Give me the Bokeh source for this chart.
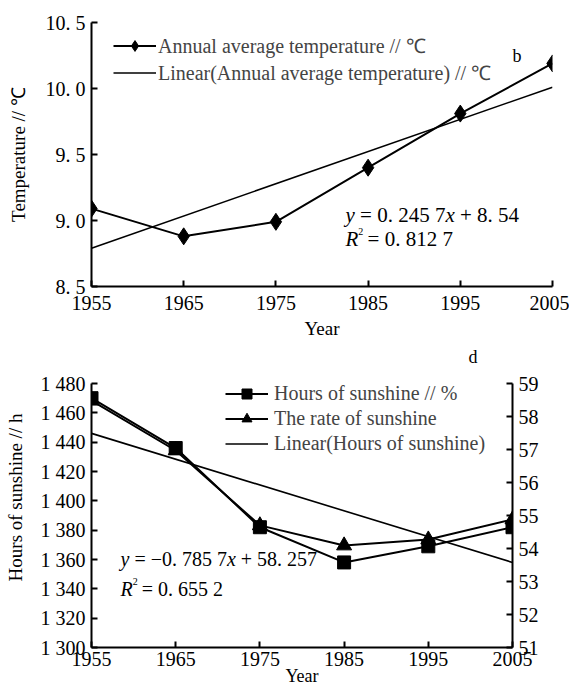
import math
from bokeh.plotting import figure
from bokeh.models import Range1d, LinearAxis, Legend, LegendItem, Label, FixedTicker
from bokeh.embed import file_html
from bokeh.resources import INLINE

FONT = "Liberation Serif"
NB = "\u00a0"

# ---------------- data ----------------
years = [1955, 1965, 1975, 1985, 1995, 2005]
temperature = [9.09, 8.88, 8.99, 9.40, 9.81, 10.19]
trend_years = [1955, 2005]
temp_trend = [8.79, 10.01]
temp_ticks = [8.5, 9.0, 9.5, 10.0, 10.5]
temp_tick_labels = ["8. 5", "9. 0", "9. 5", "10. 0", "10. 5"]

sun_hours = [1470, 1436, 1382, 1358, 1369, 1382]
sun_rate = [58.48, 56.97, 54.70, 54.09, 54.27, 54.88]
hours_trend = [1446, 1358]
hours_ticks = [1300, 1320, 1340, 1360, 1380, 1400, 1420, 1440, 1460, 1480]
hours_tick_labels = ["1 300", "1 320", "1 340", "1 360", "1 380", "1 400",
                     "1 420", "1 440", "1 460", "1 480"]
rate_ticks = [51, 52, 53, 54, 55, 56, 57, 58, 59]
year_ticks = [1955, 1965, 1975, 1985, 1995, 2005]

# Times/Liberation Serif advance widths (em) for placing mixed-style text
W = {" ": .25, NB: .25, "=": .564, "+": .564, "\u2212": .564, ".": .25, "y": .444, "x": .444, "R": .611}
def tw(s, size):
    return sum(W.get(c, .5) for c in s) * size

def style_axis(ax, size="20px"):
    ax.axis_line_width = 2
    ax.axis_line_color = "black"
    ax.major_tick_in = 6
    ax.major_tick_out = 0
    ax.major_tick_line_width = 2
    ax.minor_tick_line_color = None
    ax.major_label_text_font = FONT
    ax.major_label_text_font_size = size
    ax.major_label_text_color = "black"
    ax.axis_label_text_font = FONT
    ax.axis_label_text_font_style = "normal"
    ax.axis_label_text_color = "black"

def add_text(p, x, y, text, size, style="normal"):
    p.add_layout(Label(x=x, y=y, x_units="screen", y_units="screen", text=text,
                       text_font=FONT, text_font_size=f"{size}px", text_font_style=style,
                       text_color="black", text_baseline="middle", text_align="left"))

def equation(p, x, y, parts, size):
    for txt, st in parts:
        txt = txt.replace(" ", NB)
        add_text(p, x, y, txt, size, st)
        x += tw(txt, size)

# ---------------- top chart ----------------
p1 = figure(width=569, height=347, x_range=Range1d(1955, 2005), y_range=Range1d(8.5, 10.5),
            output_backend="svg", toolbar_location=None,
            min_border_left=91, min_border_right=17, min_border_top=22, min_border_bottom=61)
p1.outline_line_color = None
p1.xgrid.visible = False
p1.ygrid.visible = False
p1.xaxis.ticker = FixedTicker(ticks=year_ticks)
p1.yaxis.ticker = FixedTicker(ticks=temp_ticks)
p1.yaxis.major_label_overrides = dict(zip(temp_ticks, temp_tick_labels))
style_axis(p1.xaxis[0])
style_axis(p1.yaxis[0])
p1.xaxis.major_label_standoff = 9
p1.yaxis.major_label_standoff = 6
p1.xaxis.axis_label = "Year"
p1.xaxis.axis_label_text_font_size = "19px"
p1.xaxis.axis_label_standoff = 5
p1.yaxis.axis_label = "Temperature // \u2103"
p1.yaxis.axis_label_text_font_size = "19px"
p1.yaxis.axis_label_standoff = 14

l_temp = p1.line(years, temperature, line_color="black", line_width=2)
m_temp = p1.scatter(years, temperature, marker="diamond", size=17, fill_color="black", line_color="black")
l_trend = p1.line(trend_years, temp_trend, line_color="black", line_width=1.6)

leg1 = Legend(items=[
    LegendItem(label="Annual average temperature // \u2103", renderers=[l_temp, m_temp]),
    LegendItem(label="Linear(Annual average temperature) // \u2103", renderers=[l_trend]),
], location=(22, 200), padding=0, margin=0, spacing=0, glyph_width=43, glyph_height=27,
    label_height=27, label_standoff=2, border_line_color=None, background_fill_alpha=0,
    label_text_font=FONT, label_text_font_size="20px")
p1.add_layout(leg1)

add_text(p1, 421, 231, "b", 18)
equation(p1, 254, 72, [("y", "italic"), (" = 0. 245 7", "normal"), ("x", "italic"), (" + 8. 54", "normal")], 21)
equation(p1, 254, 48, [("R", "italic")], 21)
add_text(p1, 254 + tw("R", 21), 55, "2", 10)
add_text(p1, 254 + tw("R", 21) + 4, 48, NB + "=" + NB + "0." + NB + "812" + NB + "7", 21)

# ---------------- bottom chart ----------------
# frame reaches 36 px above the top tick (1 480 / 59) so the "d" mark fits inside it
FIG2_H, TOP_GAP, AXIS_PX = 345, 36, 264
h_lo, h_hi = 1300, 1480
r_lo, r_hi = 51, 59
p2 = figure(width=569, height=FIG2_H,
            x_range=Range1d(1955, 2005),
            y_range=Range1d(h_lo, h_hi + (h_hi - h_lo) * TOP_GAP / AXIS_PX),
            output_backend="svg", toolbar_location=None,
            min_border_left=91, min_border_right=57, min_border_top=0,
            min_border_bottom=FIG2_H - TOP_GAP - AXIS_PX)
p2.extra_y_ranges = {"rate": Range1d(r_lo, r_hi + (r_hi - r_lo) * TOP_GAP / AXIS_PX)}
p2.outline_line_color = None
p2.xgrid.visible = False
p2.ygrid.visible = False
p2.xaxis.ticker = FixedTicker(ticks=year_ticks)
p2.yaxis.ticker = FixedTicker(ticks=hours_ticks)
p2.yaxis.major_label_overrides = dict(zip(hours_ticks, hours_tick_labels))
p2.yaxis.bounds = (h_lo, h_hi)
style_axis(p2.xaxis[0])
style_axis(p2.yaxis[0])
p2.xaxis.major_label_standoff = 4
p2.yaxis.major_label_standoff = 6
p2.xaxis.axis_label = "Year"
p2.xaxis.axis_label_text_font_size = "18px"
p2.xaxis.axis_label_standoff = -3
p2.yaxis.axis_label = "Hours of sunshine // h"
p2.yaxis.axis_label_text_font_size = "19px"
p2.yaxis.axis_label_standoff = 12
rax = LinearAxis(y_range_name="rate", ticker=FixedTicker(ticks=rate_ticks), bounds=(r_lo, r_hi))
style_axis(rax)
rax.major_label_standoff = 6
p2.add_layout(rax, "right")

l_hours = p2.line(years, sun_hours, line_color="black", line_width=2)
m_hours = p2.scatter(years, sun_hours, marker="square", size=13, fill_color="black", line_color="black")
l_rate = p2.line(years, sun_rate, y_range_name="rate", line_color="black", line_width=2)
m_rate = p2.scatter(years, sun_rate, y_range_name="rate", marker="triangle", size=15,
                    fill_color="black", line_color="black")
l_htrend = p2.line(trend_years, hours_trend, line_color="black", line_width=1.6)

leg2 = Legend(items=[
    LegendItem(label="Hours of sunshine // %", renderers=[l_hours, m_hours]),
    LegendItem(label="The rate of sunshine", renderers=[l_rate, m_rate]),
    LegendItem(label="Linear(Hours of sunshine)", renderers=[l_htrend]),
], location=(134, 191), padding=0, margin=0, spacing=0, glyph_width=43, glyph_height=25,
    label_height=25, label_standoff=6, border_line_color=None, background_fill_alpha=0,
    label_text_font=FONT, label_text_font_size="20px")
p2.add_layout(leg2)

add_text(p2, 377, 291, "d", 18)
equation(p2, 29, 89, [("y", "italic"), (" = \u22120. 785 7", "normal"), ("x", "italic"), (" + 58. 257", "normal")], 20)
equation(p2, 29, 59, [("R", "italic")], 20)
add_text(p2, 29 + tw("R", 20), 66, "2", 10)
add_text(p2, 29 + tw("R", 20) + 4, 59, NB + "=" + NB + "0." + NB + "655" + NB + "2", 20)

open("out.html", "w").write(file_html([p1, p2], INLINE))
